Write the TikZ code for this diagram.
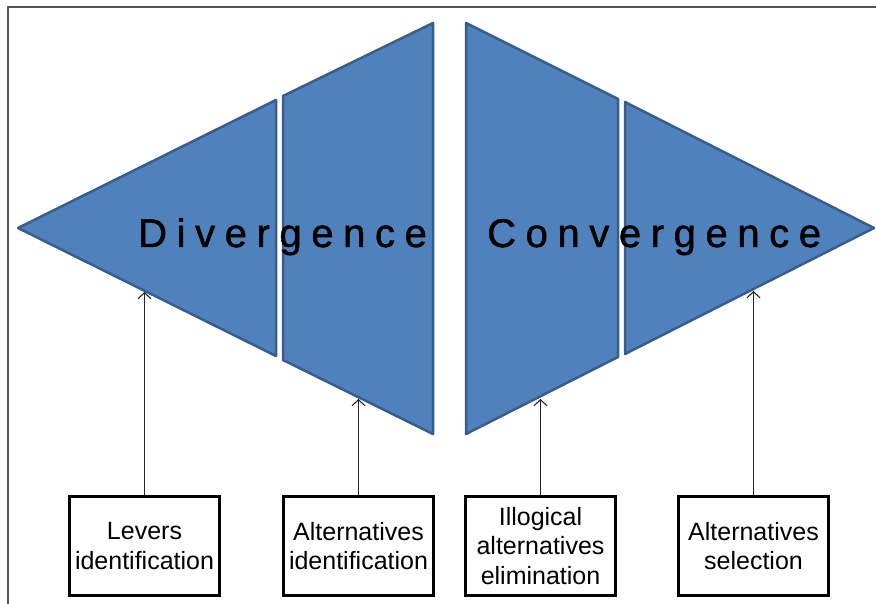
\documentclass[tikz,border=0pt]{standalone}
\usepackage{fontspec}
\setmainfont{Liberation Sans}
\newfontfamily\spacedfont[LetterSpace=24,FakeBold=1.2]{Liberation Sans}
\usepackage{tikz}
\usetikzlibrary{arrows.meta,positioning}
\definecolor{shapefill}{HTML}{4F81BD}
\definecolor{shapeline}{HTML}{385D8A}
\definecolor{framegray}{HTML}{555555}

\begin{document}
\begin{tikzpicture}[x=1pt,y=-1pt,>={Straight Barb[length=6pt,width=13pt]},
  piece/.style={fill=shapefill,draw=shapeline,line width=2.5pt,line join=round},
  stepbox/.style={draw,line width=3pt,minimum width=150pt,minimum height=99pt,
    text width=150pt,align=center,inner sep=0pt,
    font=\fontsize{25}{29.5}\selectfont},
  bigword/.style={inner sep=0pt,anchor=base west,font=\spacedfont\fontsize{40}{48}\selectfont}]
  \useasboundingbox (0,0) rectangle (876,604);
  % frame
  \draw[framegray,line width=2.2pt] (8,604) -- (8,7) -- (876,7);
  % divergence
  \draw[piece] (18,228) -- (276,100) -- (276,356) -- cycle;
  \draw[piece] (283,96) -- (433,23) -- (433,434) -- (283,360) -- cycle;
  % convergence
  \draw[piece] (466,23) -- (618,99) -- (618,357) -- (466,434) -- cycle;
  \draw[piece] (625,102) -- (874,228) -- (625,354) -- cycle;
  \node[bigword] (div) at (138,247) {Divergence};
  \node[bigword] (conv) at (487,247) {Convergence};
  % steps
  \node[stepbox] (levers) at (144.5,546) {Levers\\identification};
  \node[stepbox] (altid) at (358.5,546) {Alternatives\\identification};
  \node[stepbox] (illogic) at (540.5,546) {Illogical\\alternatives\\elimination};
  \node[stepbox] (altsel) at (753.5,546) {Alternatives\\selection};
  \coordinate (levers-end) at (144.5,292);
  \coordinate (altid-end) at (358.5,399);
  \coordinate (illogic-end) at (540.5,399);
  \coordinate (altsel-end) at (753.5,291);
  \foreach \n in {levers,altid,illogic,altsel}
    \draw[->,line width=1.1pt,black!85] (\n.north) -- (\n-end);
\end{tikzpicture}
\end{document}
